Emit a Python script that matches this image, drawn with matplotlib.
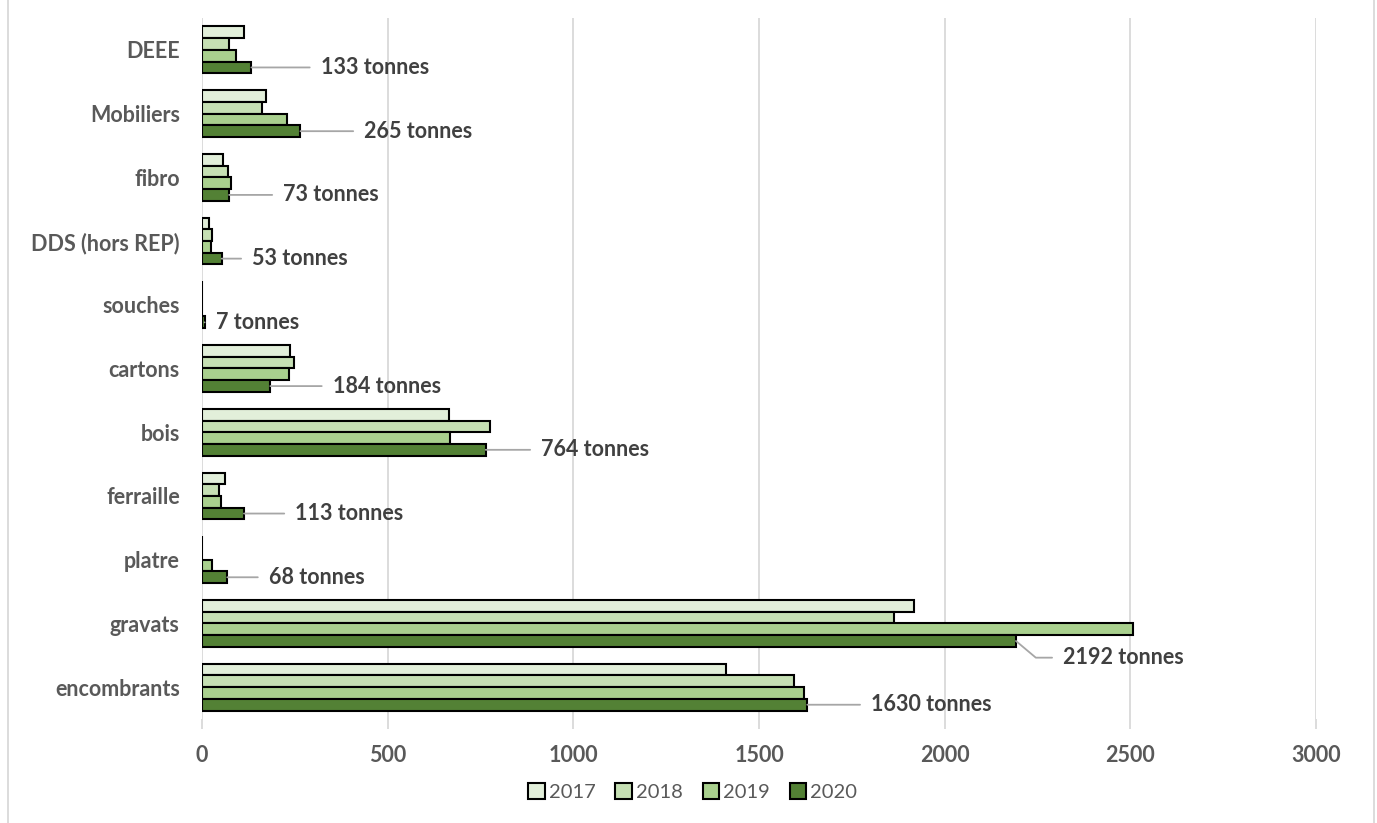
import matplotlib
matplotlib.use('Agg')
import matplotlib.pyplot as plt
from matplotlib.lines import Line2D
import numpy as np

categories = ['encombrants', 'gravats', 'platre', 'ferraille', 'bois', 'cartons',
              'souches', 'DDS (hors REP)', 'fibro', 'Mobiliers', 'DEEE']
years = ['2017', '2018', '2019', '2020']
v2017 = [1412, 1918, 0, 63, 665, 237, 0, 20, 56, 172, 112]
v2018 = [1595, 1863, 0, 47, 776, 248, 0, 26, 70, 161, 72]
v2019 = [1622, 2506, 26, 51, 667, 233, 0, 23, 78, 229, 92]
v2020 = [1630, 2192, 68, 113, 764, 184, 7, 53, 73, 265, 133]
label_text = [f'{v} tonnes' for v in v2020]

colors = ['#E2EFDA', '#C6E0B4', '#A9D08E', '#538135']
# leader line offsets (points) for each 2020 label: dx, dy
label_dx = [40, 28, 24, 31, 34, 39, 2, 16, 33, 40, 44]
label_dy = [0, -12, 0, 0, 0, 0, 0, 0, 0, 0, 0]

plt.rcParams['font.family'] = ['Lato', 'DejaVu Sans']
grey = '#595959'
fs = 15.5

fig = plt.figure(figsize=(13.77, 8.23), dpi=100)
ax = fig.add_axes([202 / 1377, 1 - 719 / 823, (1316 - 202) / 1377, 701 / 823])

y = np.arange(len(categories))
h = 0.184
series = [v2017, v2018, v2019, v2020]
for i, (vals, c) in enumerate(zip(series, colors)):
    ax.barh(y + (1.5 - i) * h, vals, height=h, color=c, edgecolor='black',
            linewidth=1.5, label=years[i], zorder=3)

# data labels with leader lines on the 2020 bars
y20 = y - 1.5 * h
for yi, v, txt, dx, dy in zip(y20, v2020, label_text, label_dx, label_dy):
    ax.annotate(txt, xy=(v, yi), xytext=(dx + 6, dy), textcoords='offset points',
                ha='left', va='center', fontsize=fs, fontweight='bold', color='#404040',
                arrowprops=dict(arrowstyle='-', color='#A6A6A6', lw=1.3,
                                shrinkA=6, shrinkB=0,
                                connectionstyle='angle,angleA=0,angleB=-40,rad=0' if dy else None),
                zorder=4)

ax.set_xlim(0, 3000)
ax.set_ylim(-0.5, len(categories) - 0.5)
ax.set_xticks(range(0, 3001, 500))
ax.set_yticks(y)
ax.set_yticklabels(categories)
ax.grid(axis='x', color='#D9D9D9', linewidth=1.3, zorder=0)
for s in ax.spines.values():
    s.set_visible(False)
ax.tick_params(axis='y', length=0, pad=16, labelsize=fs, labelcolor=grey)
ax.tick_params(axis='x', length=7, color='#D9D9D9', width=1.3, pad=12,
               labelsize=fs, labelcolor=grey)
for lab in ax.get_xticklabels() + ax.get_yticklabels():
    lab.set_fontweight('bold')

handles = [plt.Rectangle((0, 0), 1, 1, facecolor=c, edgecolor='black', linewidth=1.5)
           for c in colors]
fig.legend(handles, years, loc='center', bbox_to_anchor=(0.503, 1 - 792 / 823),
           ncol=4, frameon=False, fontsize=14.5, handlelength=0.8, handleheight=0.8,
           handletextpad=0.2, columnspacing=1.0, labelcolor=grey)

# chart frame edges
fig.add_artist(Line2D([7.5 / 1377, 7.5 / 1377], [0, 1], color='#D9D9D9', lw=1.3))
fig.add_artist(Line2D([1373.5 / 1377, 1373.5 / 1377], [0, 1], color='#D9D9D9', lw=1.3))

fig.savefig('out.png', dpi=100)
